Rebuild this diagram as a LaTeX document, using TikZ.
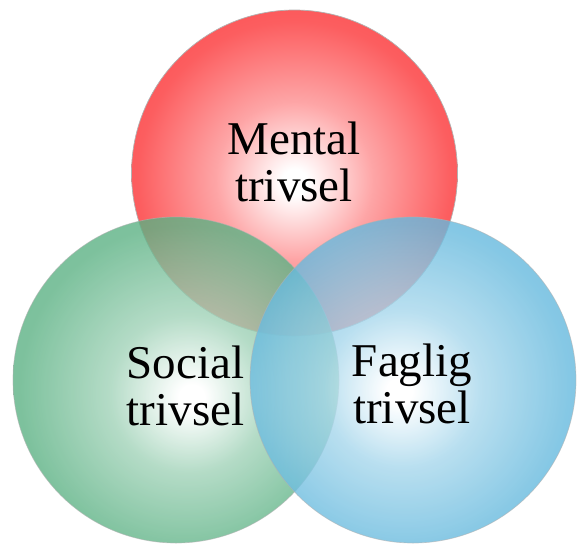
\documentclass[tikz,border=0pt]{standalone}
\usepackage{fontspec}
\setmainfont{Liberation Serif}

\definecolor{mentalred}{RGB}{252,76,78}
\definecolor{socialgreen}{RGB}{76,170,120}
\definecolor{fagligblue}{RGB}{86,178,218}

\pgfdeclareradialshading{mentalshade}{\pgfpoint{0bp}{-1.5bp}}{%
  color(0bp)=(white); color(2bp)=(white); color(12bp)=(mentalred!50!white);
  color(24bp)=(mentalred!90!white); color(32bp)=(mentalred); color(38bp)=(mentalred!90!black);
  color(50bp)=(mentalred!90!black)}
\pgfdeclareradialshading{socialshade}{\pgfpoint{2.5bp}{-2.8bp}}{%
  color(0bp)=(white); color(2bp)=(white); color(12bp)=(socialgreen!52!white);
  color(25bp)=(socialgreen!90!white); color(34bp)=(socialgreen); color(40bp)=(socialgreen!90!black);
  color(50bp)=(socialgreen!90!black)}
\pgfdeclareradialshading{fagligshade}{\pgfpoint{-2.2bp}{-1.8bp}}{%
  color(0bp)=(white); color(2bp)=(white); color(12bp)=(fagligblue!52!white);
  color(25bp)=(fagligblue!90!white); color(34bp)=(fagligblue); color(40bp)=(fagligblue!90!black);
  color(50bp)=(fagligblue!90!black)}

\begin{document}
\begin{tikzpicture}[
    x=1pt, y=-1pt,
    every node/.style={font=\fontsize{47}{47}\selectfont, align=center, inner sep=0pt},
    ball/.style={circle, shade, minimum size=326pt, draw=black!30, line width=0.7pt},
  ]
    \useasboundingbox (0,0) rectangle (577,546);
    \node[ball, shading=mentalshade] (mentalball) at (294.5,173) {};
    \node[ball, shading=socialshade, fill opacity=0.8, draw opacity=0.6] (socialball) at (176,380) {};
    \node[ball, shading=fagligshade, fill opacity=0.8, draw opacity=0.6] (fagligball) at (413,380) {};

    \node (mental) at (294,162) {Mental\\trivsel};
    \node (social) at (185.5,386) {Social\\trivsel};
    \node (faglig) at (412,384) {Faglig\\trivsel};
  \end{tikzpicture}
\end{document}
